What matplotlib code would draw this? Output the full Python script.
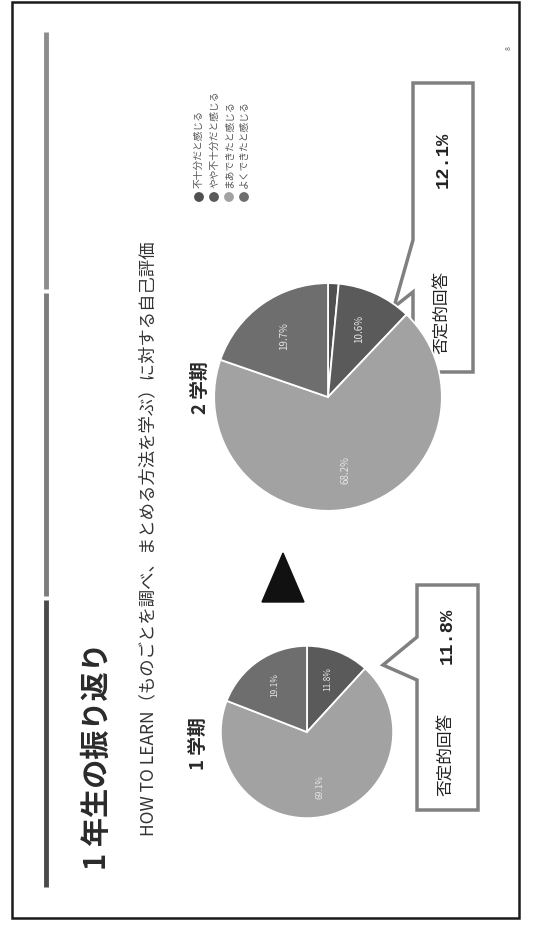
import matplotlib
matplotlib.use('Agg')
from matplotlib import pyplot as plt
from matplotlib.patches import Polygon, Rectangle, Circle

plt.rcParams['font.family'] = ['Noto Sans CJK JP', 'DejaVu Sans']

W, H = 534, 926

# data
categories = ['不十分だと感じる', 'やや不十分だと感じる', 'まあできたと感じる', 'よくできたと感じる']
term1 = [0.0, 11.8, 69.1, 19.1]
term2 = [1.5, 10.6, 68.2, 19.7]
term_labels = ['1 学期', '2 学期']
neg_label = '否定的回答'
neg_values = ['11.8%', '12.1%']
colors = ['#505050', '#5a5a5a', '#a2a2a2', '#6e6e6e']

title = '1 年生の振り返り'
subtitle = 'HOW TO LEARN（ものごとを調べ、まとめる方法を学ぶ）に対する自己評価'


def px_axes(fig, cx, cy, r):
    return fig.add_axes([(cx - r) / W, 1 - (cy + r) / H, 2 * r / W, 2 * r / H])


def draw_pie(fig, values, cx, cy, r, fs):
    a = px_axes(fig, cx, cy, r)
    wedges, texts, autotexts = a.pie(
        values, colors=colors, startangle=90, counterclock=False,
        autopct=lambda p: f'{p:.1f}%' if p > 5 else '', pctdistance=0.66,
        wedgeprops=dict(edgecolor='white', linewidth=1.3),
        textprops=dict(color='#e6e6e6', fontsize=fs))
    for t in autotexts:
        t.set_rotation(90)
    a.set_xlim(-1.01, 1.01)
    a.set_ylim(-1.01, 1.01)
    a.set_aspect('equal')
    a.axis('off')


def vtext(x, y, s, **kw):
    # text reading bottom-to-top, starting at (x, y)
    ax.text(x, y, s, rotation=90, ha='left', va='center', rotation_mode='anchor', **kw)


fig = plt.figure(figsize=(W / 100, H / 100), dpi=100)
ax = fig.add_axes([0, 0, 1, 1])
ax.set_xlim(0, W)
ax.set_ylim(H, 0)
ax.axis('off')

# slide border
ax.add_patch(Rectangle((12, 2), 507, 916, fill=False, edgecolor='#1a1a1a', lw=1.8))

# side bar
ax.plot([46, 46], [32, 289], color='#8c8c8c', lw=3.5, solid_capstyle='butt')
ax.plot([46, 46], [293, 596], color='#7c7c7c', lw=3.5, solid_capstyle='butt')
ax.plot([46, 46], [600, 887], color='#4a4a4a', lw=3.5, solid_capstyle='butt')

ax.text(509, 48, '8', rotation=90, fontsize=5, color='#555555', ha='center', va='center')

vtext(97, 870, title, fontsize=21, fontweight='bold', color='#2a2a2a')
vtext(148, 836, subtitle, fontsize=12.5, color='#333333')

vtext(198, 770, term_labels[0], fontsize=13.5, fontweight='bold', color='#2a2a2a')
vtext(200, 414, term_labels[1], fontsize=13.5, fontweight='bold', color='#2a2a2a')

# legend
for i, (name, c) in enumerate(zip(categories, colors)):
    x = 199 + i * 15
    ax.add_patch(Circle((x, 197), 4.2, color=c))
    vtext(x, 188, name, fontsize=7, color='#555555')

# arrow between terms
ax.add_patch(Polygon([(283, 553), (262, 602), (304, 602)], closed=True, color='#111111'))

draw_pie(fig, term1, 307, 732, 87, 6)
draw_pie(fig, term2, 328, 397, 115, 7)

# callouts
box_kw = dict(closed=True, facecolor='white', edgecolor='#808080', lw=2.5, joinstyle='miter')
ax.add_patch(Polygon([(417, 585), (478, 585), (478, 810), (417, 810), (417, 680),
                      (383, 665), (417, 637)], **box_kw))
ax.add_patch(Polygon([(413, 83), (473, 83), (473, 372), (413, 372), (413, 292),
                      (394, 307), (413, 240)], **box_kw))
vtext(447, 796, neg_label, fontsize=12, color='#222222')
vtext(447, 664, neg_values[0], fontsize=13.5, fontweight='bold', color='#222222',
      family=['Liberation Mono'])
vtext(443, 354, neg_label, fontsize=12, color='#222222')
vtext(443, 188, neg_values[1], fontsize=13.5, fontweight='bold', color='#222222',
      family=['Liberation Mono'])

fig.savefig('out.png', dpi=100)
